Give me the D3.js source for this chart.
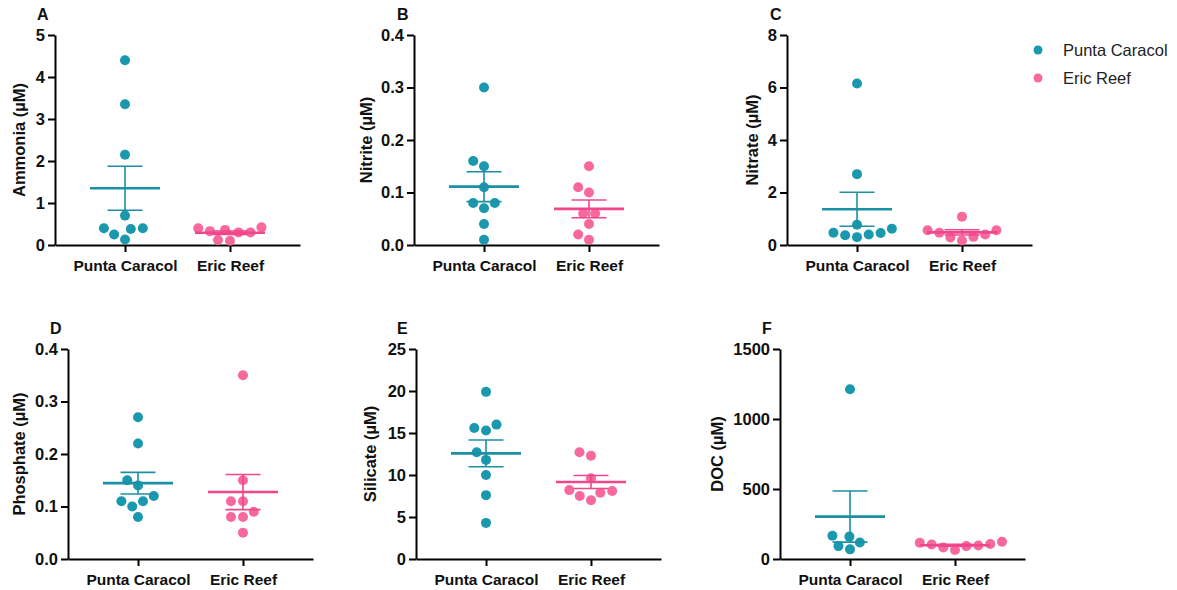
<!DOCTYPE html>
<html>
<head>
<meta charset="utf-8">
<script src="https://cdn.jsdelivr.net/npm/d3@7"></script>
<style>
  html, body { margin: 0; padding: 0; background: #fff; }
  svg { display: block; font-family: "Liberation Sans", Arial, sans-serif; }
</style>
</head>
<body>
<svg id="chart" width="1177" height="590"></svg>
<script>
// Sites
const categories = ["Punta Caracol", "Eric Reef"];

// Nutrient concentrations (µM) per sample, by site
const ammoniaPC   = [4.40, 3.35, 2.15, 0.70, 0.38, 0.40, 0.13, 0.25, 0.40];
const ammoniaER   = [0.30, 0.42, 0.10, 0.33, 0.36, 0.12, 0.30, 0.40];
const nitritePC   = [0.30, 0.16, 0.15, 0.11, 0.08, 0.08, 0.07, 0.04, 0.01];
const nitriteER   = [0.15, 0.11, 0.10, 0.06, 0.06, 0.04, 0.02, 0.01];
const nitratePC   = [6.15, 2.70, 0.77, 0.62, 0.37, 0.40, 0.46, 0.30, 0.47];
const nitrateER   = [1.08, 0.56, 0.56, 0.47, 0.29, 0.31, 0.40, 0.17];
const phosphatePC = [0.27, 0.22, 0.15, 0.14, 0.12, 0.11, 0.11, 0.10, 0.08];
const phosphateER = [0.35, 0.15, 0.11, 0.11, 0.09, 0.08, 0.08, 0.05];
const silicatePC  = [19.9, 15.6, 15.3, 16.0, 12.7, 11.8, 10.0, 7.6, 4.3];
const silicateER  = [12.3, 12.7, 9.6, 8.1, 8.2, 7.0, 7.5, 7.9];
const docPC       = [1213, 166, 160, 118, 92, 69];
const docER       = [92, 123, 107, 116, 64, 104, 83, 97];

// Y tick values per panel
const ammoniaTicks   = [0, 1, 2, 3, 4, 5];
const nitriteTicks   = [0, 0.1, 0.2, 0.3, 0.4];
const nitrateTicks   = [0, 2, 4, 6, 8];
const phosphateTicks = [0, 0.1, 0.2, 0.3, 0.4];
const silicateTicks  = [0, 5, 10, 15, 20, 25];
const docTicks       = [0, 500, 1000, 1500];

// Panel titles
const panelLetters = ["A", "B", "C", "D", "E", "F"];
const yTitles = ["Ammonia (µM)", "Nitrite (µM)", "Nitrate (µM)", "Phosphate (µM)", "Silicate (µM)", "DOC (µM)"];

const colors = { dot: ["#1a98ad", "#f7699c"], line: ["#1b8fa4", "#f0478c"] };

const panels = [
  { series: [ammoniaPC, ammoniaER],     ticks: ammoniaTicks,   fmt: d3.format("d"),   left: 55,  top: 35,  bottom: 245, titleX: 19,  letterX: 37 },
  { series: [nitritePC, nitriteER],     ticks: nitriteTicks,   fmt: d3.format(".1f"), left: 414, top: 35,  bottom: 245, titleX: 366, letterX: 397 },
  { series: [nitratePC, nitrateER],     ticks: nitrateTicks,   fmt: d3.format("d"),   left: 787, top: 35,  bottom: 245, titleX: 752, letterX: 770 },
  { series: [phosphatePC, phosphateER], ticks: phosphateTicks, fmt: d3.format(".1f"), left: 68,  top: 349, bottom: 559, titleX: 19,  letterX: 50 },
  { series: [silicatePC, silicateER],   ticks: silicateTicks,  fmt: d3.format("d"),   left: 416, top: 349, bottom: 559, titleX: 370, letterX: 397 },
  { series: [docPC, docER],             ticks: docTicks,       fmt: d3.format("d"),   left: 780, top: 349, bottom: 559, titleX: 717, letterX: 762 }
];

const svg = d3.select("#chart");
const plotWidth = 245;
const R = 5;            // dot radius
const SEP = 12;         // minimum centre distance between dots

// Simple beeswarm: place each point at the horizontal offset closest to the
// category centre that does not collide with already placed points.
function swarm(vals, y) {
  const order = vals.map((v, i) => i).sort((a, b) => vals[a] - vals[b]);
  const placed = [];
  const off = new Array(vals.length);
  order.forEach(i => {
    const py = y(vals[i]);
    const ivs = [];
    placed.forEach(p => {
      const dy = Math.abs(p.y - py);
      if (dy < SEP) {
        const h = Math.sqrt(SEP * SEP - dy * dy);
        ivs.push([p.x - h, p.x + h]);
      }
    });
    const cands = [0];
    ivs.forEach(iv => cands.push(iv[0], iv[1]));
    cands.sort((a, b) => Math.abs(a) - Math.abs(b) || a - b);
    const ok = c => ivs.every(iv => c <= iv[0] + 1e-6 || c >= iv[1] - 1e-6);
    const x = cands.find(ok);
    off[i] = x;
    placed.push({ x, y: py });
  });
  return off;
}

panels.forEach((p, pi) => {
  const g = svg.append("g");
  const y = d3.scaleLinear()
    .domain([0, d3.max(p.ticks)])
    .range([p.bottom, p.top]);
  const x = d3.scalePoint()
    .domain(categories)
    .range([p.left, p.left + plotWidth])
    .padding(0.667);

  // Y axis
  const ya = g.append("g")
    .attr("transform", `translate(${p.left},0)`)
    .call(d3.axisLeft(y).tickValues(p.ticks).tickFormat(p.fmt).tickSize(7).tickPadding(3).tickSizeOuter(0));
  // X axis
  const xa = g.append("g")
    .attr("transform", `translate(0,${p.bottom})`)
    .call(d3.axisBottom(x).tickSize(7).tickPadding(8).tickSizeOuter(0));

  [ya, xa].forEach(a => {
    a.select(".domain").attr("stroke", "#000").attr("stroke-width", 2);
    a.selectAll(".tick line").attr("stroke", "#000").attr("stroke-width", 2);
  });
  ya.selectAll(".tick text").attr("font-size", 16.5).attr("font-weight", "bold").attr("fill", "#111");
  xa.selectAll(".tick text").attr("font-size", 15.5).attr("font-weight", "bold").attr("fill", "#111");

  // Axis title
  g.append("text")
    .attr("transform", `translate(${p.titleX},${(p.top + p.bottom) / 2}) rotate(-90)`)
    .attr("text-anchor", "middle")
    .attr("dominant-baseline", "central")
    .attr("font-size", 16.5)
    .attr("font-weight", "bold")
    .attr("fill", "#111")
    .text(yTitles[pi]);

  // Panel letter
  g.append("text")
    .attr("x", p.letterX)
    .attr("y", p.top - 15)
    .attr("font-size", 16)
    .attr("font-weight", "bold")
    .attr("fill", "#111")
    .text(panelLetters[pi]);

  p.series.forEach((vals, si) => {
    const cx = x(categories[si]);
    const offs = swarm(vals, y);

    g.append("g").selectAll("circle")
      .data(vals)
      .join("circle")
      .attr("cx", (d, i) => cx + offs[i])
      .attr("cy", d => y(d))
      .attr("r", R)
      .attr("fill", colors.dot[si]);

    // Mean ± SEM
    const mean = d3.mean(vals);
    const sem = d3.deviation(vals) / Math.sqrt(vals.length);
    const eb = g.append("g").attr("stroke", colors.line[si]).attr("fill", "none");
    eb.append("line")
      .attr("x1", cx).attr("x2", cx)
      .attr("y1", y(mean + sem)).attr("y2", y(mean - sem))
      .attr("stroke-width", 1.6);
    [mean + sem, mean - sem].forEach(v => {
      eb.append("line")
        .attr("x1", cx - 17.5).attr("x2", cx + 17.5)
        .attr("y1", y(v)).attr("y2", y(v))
        .attr("stroke-width", 1.6);
    });
    eb.append("line")
      .attr("x1", cx - 35).attr("x2", cx + 35)
      .attr("y1", y(mean)).attr("y2", y(mean))
      .attr("stroke-width", 2.6);
  });
});

// Legend
const legend = svg.append("g").attr("transform", "translate(1038,50)");
categories.forEach((c, i) => {
  legend.append("circle")
    .attr("cx", 0).attr("cy", i * 28)
    .attr("r", 4.5)
    .attr("fill", colors.dot[i]);
  legend.append("text")
    .attr("x", 25).attr("y", i * 28)
    .attr("dominant-baseline", "central")
    .attr("font-size", 16.5)
    .attr("fill", "#222")
    .text(c);
});
</script>
</body>
</html>
